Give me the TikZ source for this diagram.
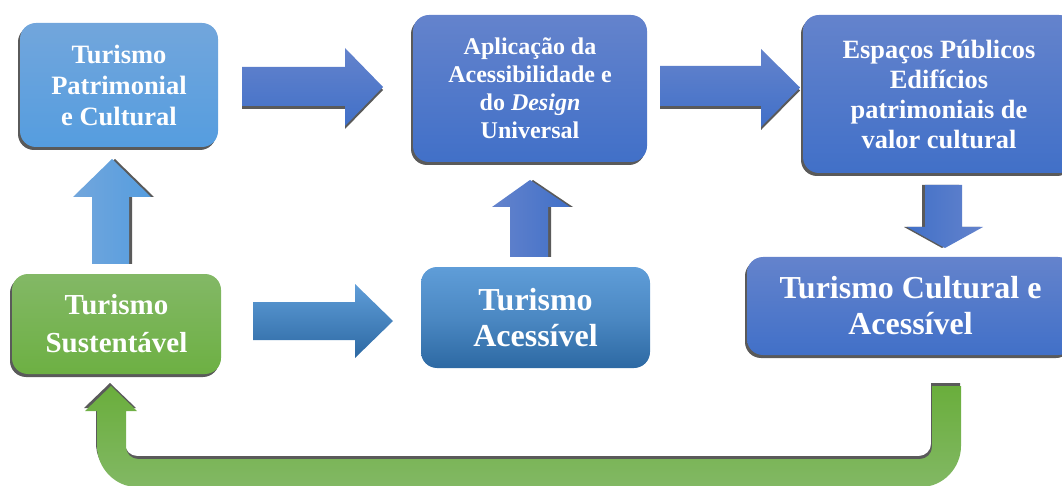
\documentclass[tikz,border=0pt]{standalone}
\usepackage{fontspec}
\setmainfont{Liberation Serif}
\begin{document}
\begin{tikzpicture}[x=1pt,y=-1pt]
\definecolor{shc}{HTML}{5A5A5A}
\definecolor{lbT}{HTML}{72A6DC}\definecolor{lbB}{HTML}{559DDF}
\definecolor{dbT}{HTML}{6483CC}\definecolor{dbB}{HTML}{4170C8}
\definecolor{grT}{HTML}{83B866}\definecolor{grB}{HTML}{6DB043}
\definecolor{sbT}{HTML}{5F9DD8}\definecolor{sbB}{HTML}{2D69A3}
\definecolor{gaT}{HTML}{6AAE3C}\definecolor{gaB}{HTML}{82B864}
\tikzset{
  boxbase/.style={rounded corners=16pt, inner sep=0pt, text=white, align=center},
  shbox/.style={boxbase, preaction={fill=shc, transform canvas={shift={(-2pt,-3pt)}}}},
  arrshade/.style={top color=dbT, bottom color=dbB},
}
\useasboundingbox (0,0) rectangle (1062,486);
% boxes
\node[shbox, top color=lbT, bottom color=lbB, minimum width=198pt, minimum height=124pt,
  font=\fontsize{26.5}{31}\selectfont\bfseries] (b1) at (119,85) {Turismo\\Patrimonial\\e Cultural};
\node[shbox, top color=dbT, bottom color=dbB, minimum width=234pt, minimum height=147pt,
  font=\fontsize{24}{28}\selectfont\bfseries] (b2) at (530,88.5) {Aplicação da\\Acessibilidade e\\do \textit{Design}\\Universal};
\node[shbox, top color=dbT, bottom color=dbB, minimum width=272pt, minimum height=158pt,
  font=\fontsize{26.4}{30}\selectfont\bfseries] (b3) at (939,94) {Espaços Públicos\\Edifícios\\patrimoniais de\\valor cultural};
\node[shbox, top color=grT, bottom color=grB, minimum width=209pt, minimum height=100pt,
  font=\fontsize{29}{38}\selectfont\bfseries] (b4) at (116.5,324) {Turismo\\Sustentável};
\node[boxbase, top color=sbT, bottom color=sbB, middle color=sbT!60!sbB, minimum width=229pt, minimum height=101pt,
  font=\fontsize{32}{36}\selectfont\bfseries] (b6) at (535.5,317.5) {Turismo\\Acessível};
\node[shbox, top color=dbT, bottom color=dbB, minimum width=327pt, minimum height=98pt,
  font=\fontsize{32}{36}\selectfont\bfseries] (b5) at (910.5,306) {Turismo Cultural e\\Acessível};
% block arrows
\fill[shc, transform canvas={shift={(0pt,-3pt)}}] (242,67) -- (345,67) -- (345,48) -- (383,87) -- (345,126) -- (345,106) -- (242,106) -- cycle;
\shade[top color=dbT, bottom color=dbB] (242,67) -- (345,67) -- (345,48) -- (383,87) -- (345,126) -- (345,106) -- (242,106) -- cycle;
\fill[shc, transform canvas={shift={(0pt,-3pt)}}] (660,66) -- (761,66) -- (761,49) -- (800,87.5) -- (761,127) -- (761,106) -- (660,106) -- cycle;
\shade[top color=dbT, bottom color=dbB] (660,66) -- (761,66) -- (761,49) -- (800,87.5) -- (761,127) -- (761,106) -- (660,106) -- cycle;
\shade[top color=sbT, bottom color=sbB] (253,302) -- (355,302) -- (355,284) -- (393,321) -- (355,358) -- (355,340) -- (253,340) -- cycle;
\fill[shc, transform canvas={shift={(3pt,0pt)}}] (92,264) -- (92,197) -- (73,197) -- (112,159) -- (151,197) -- (129,197) -- (129,264) -- cycle;
\shade[left color=lbT, right color=lbB] (92,264) -- (92,197) -- (73,197) -- (112,159) -- (151,197) -- (129,197) -- (129,264) -- cycle;
\fill[shc, transform canvas={shift={(3pt,0pt)}}] (510,257) -- (510,207) -- (492,207) -- (530,180) -- (570,207) -- (548,207) -- (548,257) -- cycle;
\shade[left color=dbT, right color=dbB] (510,257) -- (510,207) -- (492,207) -- (530,180) -- (570,207) -- (548,207) -- (548,257) -- cycle;
\fill[shc, transform canvas={shift={(-3pt,0pt)}}] (925,185) -- (962,185) -- (962,227) -- (983,227) -- (945,248) -- (907,227) -- (925,227) -- cycle;
\shade[left color=dbB, right color=dbT] (925,185) -- (962,185) -- (962,227) -- (983,227) -- (945,248) -- (907,227) -- (925,227) -- cycle;
% green return arrow
\def\greenpath{(111,386) -- (137,411) -- (126,411) -- (126,447) .. controls (126,453.6) and (131.4,459) .. (138,459) -- (920,459) .. controls (926.6,459) and (932,453.6) .. (932,447) -- (932,386) -- (961,386) -- (961,446) .. controls (961,468) and (943,487) .. (921,487) -- (137,487) .. controls (115,487) and (97,468) .. (97,446) -- (97,411) -- (85,411) -- cycle}
\fill[shc, transform canvas={shift={(-1pt,3pt)}}] \greenpath;
\shade[top color=gaT, bottom color=gaB] \greenpath;
\end{tikzpicture}
\end{document}
